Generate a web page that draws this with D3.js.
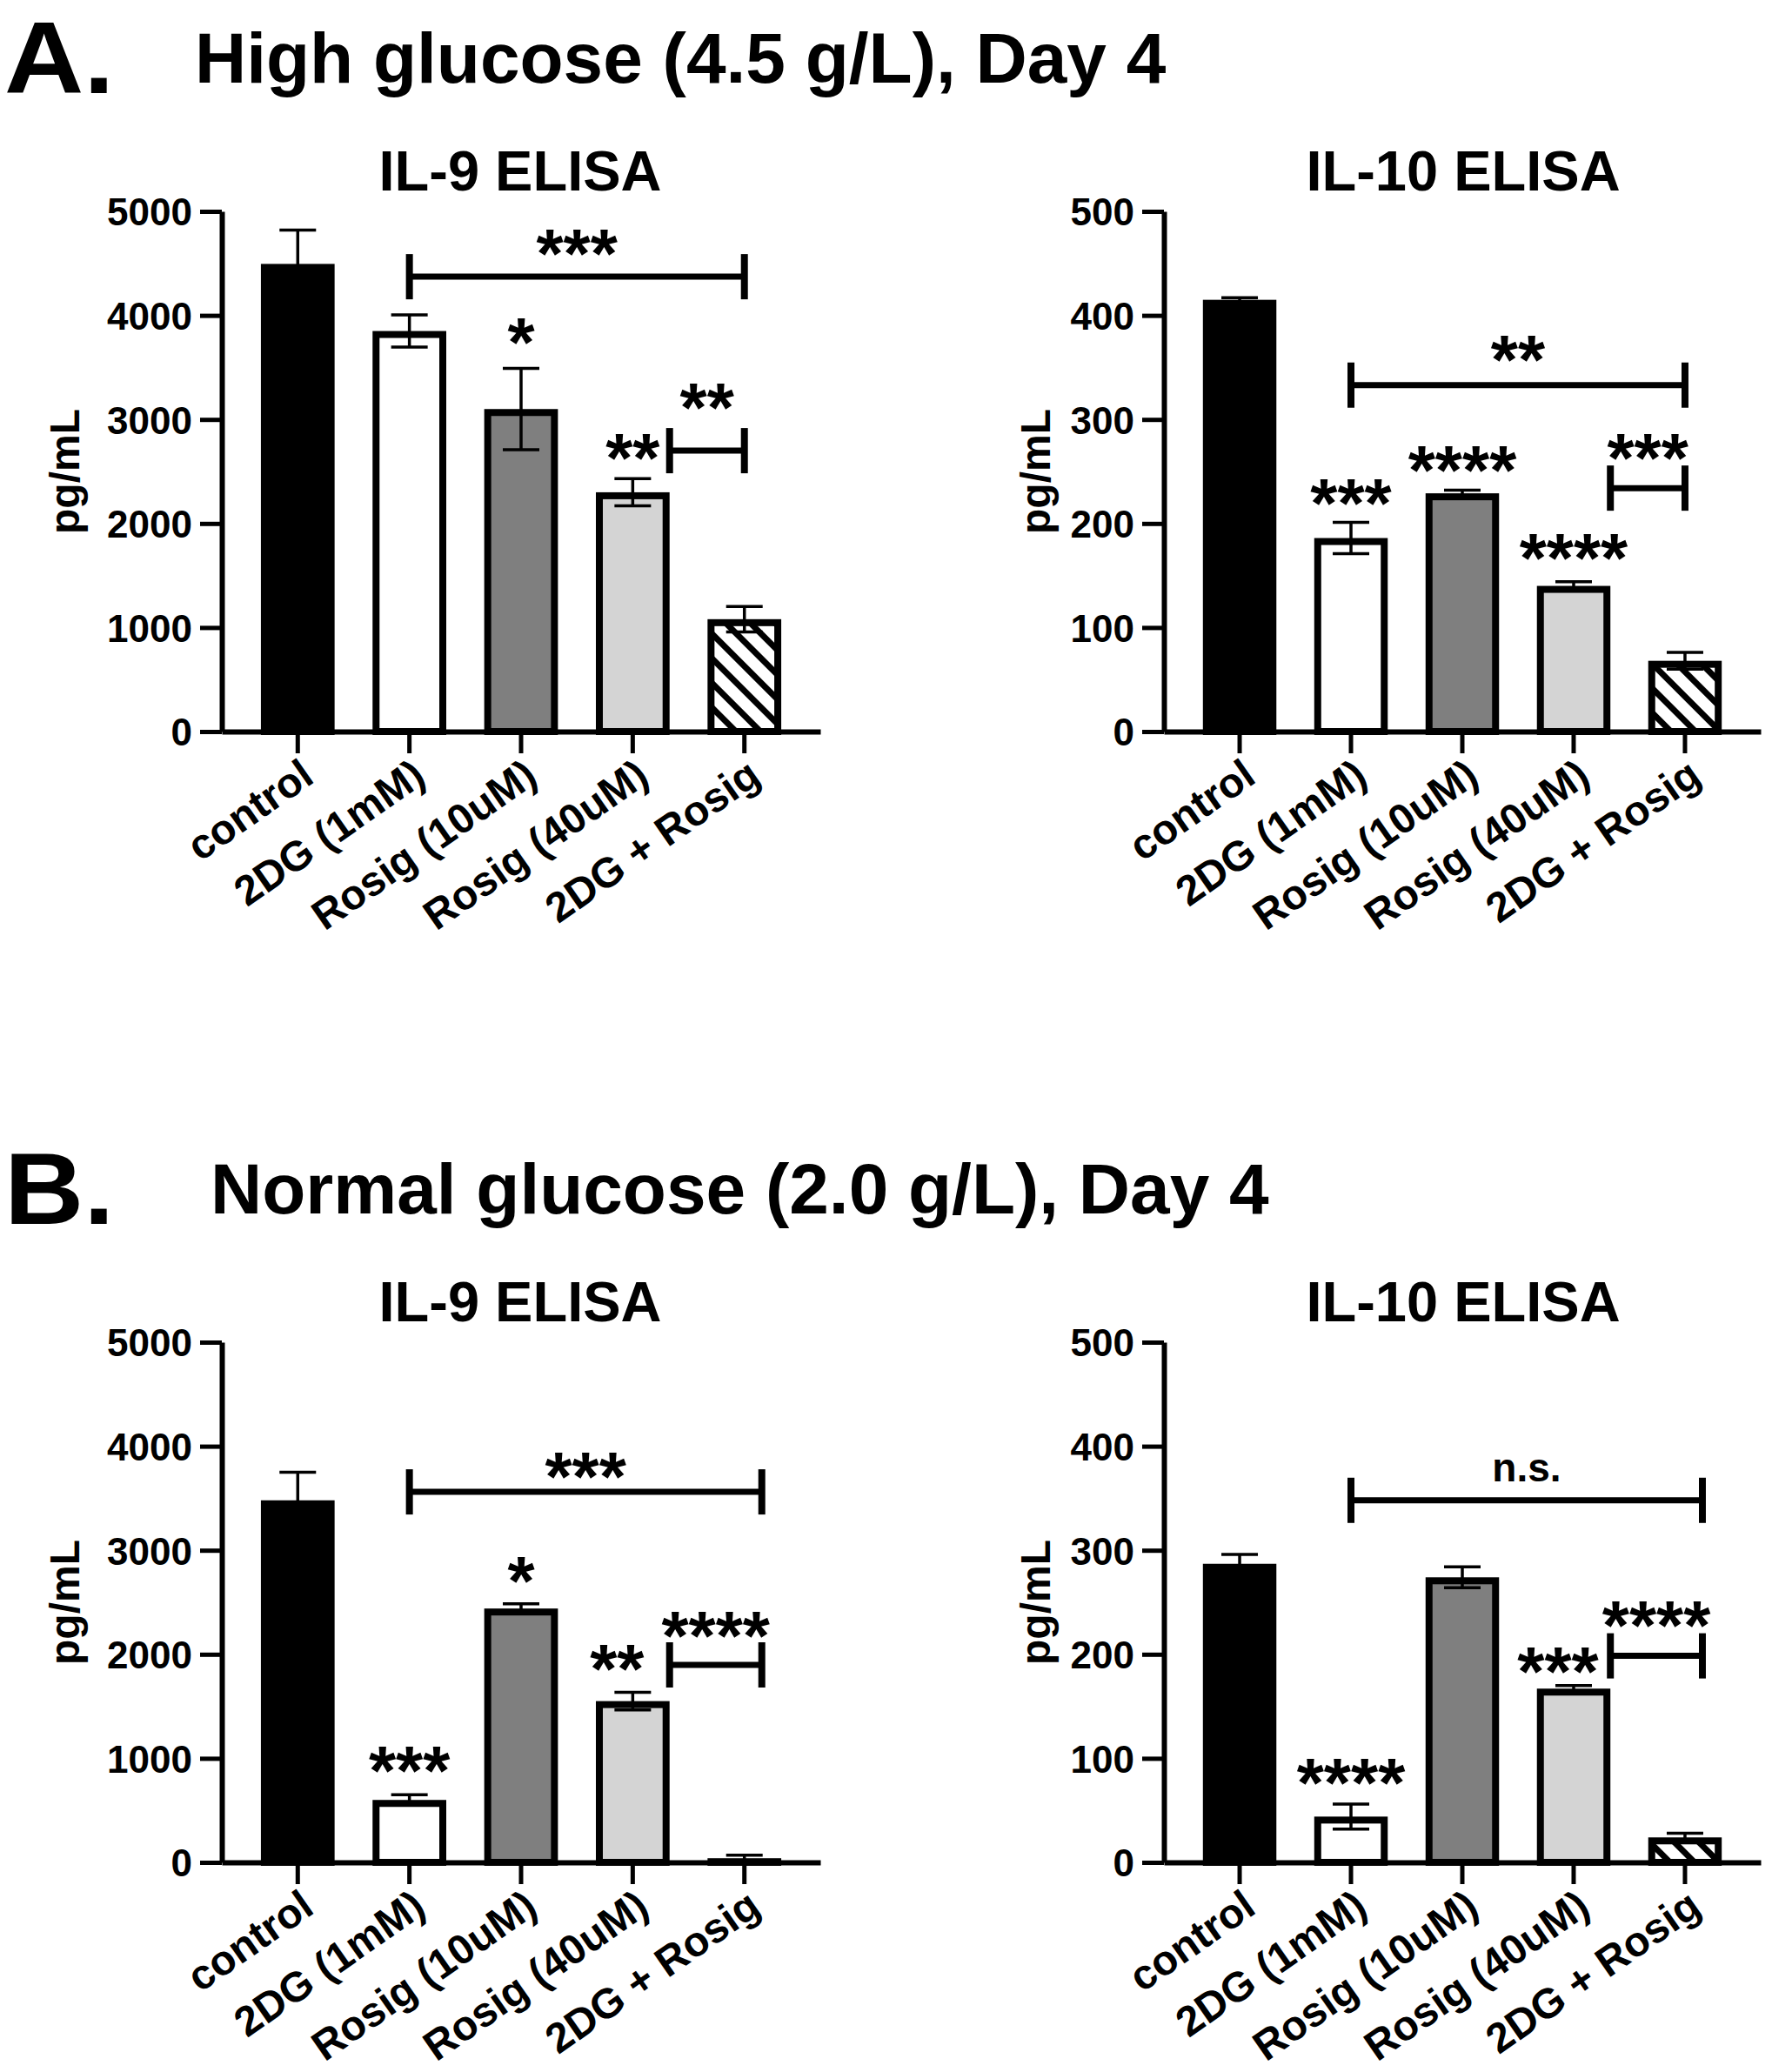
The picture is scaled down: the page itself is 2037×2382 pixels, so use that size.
<!DOCTYPE html>
<html>
<head>
<meta charset="utf-8">
<script src="https://cdn.jsdelivr.net/npm/d3@7"></script>
<style>
  body { margin: 0; background: #fff; }
  text { font-family: "Liberation Sans", Arial, sans-serif; font-weight: bold; fill: #000; }
</style>
</head>
<body>
<svg></svg>
<script>
var svgWidth = 2037;
var svgHeight = 2382;

/* categories and tick values */
var categories = ['control', '2DG (1mM)', 'Rosig (10uM)', 'Rosig (40uM)', '2DG + Rosig'];
var il9Ticks = [0, 1000, 2000, 3000, 4000, 5000];
var il10Ticks = [0, 100, 200, 300, 400, 500];

/* A: high glucose (mean, SEM) */
var il9HighMean = [4495, 3850, 3100, 2300, 1080];
var il9HighSem = [325, 155, 390, 130, 122];
var il10HighMean = [415, 186, 229, 140, 68];
var il10HighSem = [2, 15, 3, 4, 8];

/* B: normal glucose (mean, SEM) */
var il9NormalMean = [3480, 600, 2440, 1550, 40];
var il9NormalSem = [270, 50, 45, 85, 30];
var il10NormalMean = [287, 44, 274, 167, 24];
var il10NormalSem = [9, 12, 10, 3, 4];

/* brackets: [from, to, line value, label, label value] */
var il9HighBrackets = [['2DG (1mM)', '2DG + Rosig', 4372, '***', 4677], ['Rosig (40uM)', '2DG + Rosig', 2700, '**', 3200]];
var il10HighBrackets = [['2DG (1mM)', '2DG + Rosig', 333, '**', 366], ['Rosig (40uM)', '2DG + Rosig', 234, '***', 271]];
var il9NormalBrackets = [['2DG (1mM)', '2DG + Rosig', 3561, '***', 3796], ['Rosig (40uM)', '2DG + Rosig', 1898, '****', 2263]];
var il10NormalBrackets = [['2DG (1mM)', '2DG + Rosig', 348, 'n.s.', 376], ['Rosig (40uM)', '2DG + Rosig', 198.5, '****', 236]];

/* stars over single bars: [category, label, label value] */
var il9HighStars = [['Rosig (10uM)', '*', 3826], ['Rosig (40uM)', '**', 2711]];
var il10HighStars = [['2DG (1mM)', '***', 228], ['Rosig (10uM)', '****', 260], ['Rosig (40uM)', '****', 175]];
var il9NormalStars = [['2DG (1mM)', '***', 964], ['Rosig (10uM)', '*', 2787], ['Rosig (40uM)', '**', 1948]];
var il10NormalStars = [['2DG (1mM)', '****', 85], ['Rosig (40uM)', '***', 192]];

/* styling */
var barFills = ['#000000', '#ffffff', '#7f7f7f', '#d4d4d4', 'url(#hatch)'];
var starSize = 80;

var svg = d3.select('svg')
    .attr('width', svgWidth)
    .attr('height', svgHeight)
    .style('background', '#fff');

var defs = svg.append('defs');
var hatch = defs.append('pattern')
    .attr('id', 'hatch')
    .attr('patternUnits', 'userSpaceOnUse')
    .attr('width', 20)
    .attr('height', 20)
    .attr('patternTransform', 'rotate(-45)');
hatch.append('rect').attr('width', 20).attr('height', 20).attr('fill', '#fff');
hatch.append('rect').attr('width', 7).attr('height', 20).attr('fill', '#000');

var panels = [
    { letter: 'A.', title: 'High glucose (4.5 g/L), Day 4', dy: 0, titleX: 224, endNudge: 0, starNudge: 0,
      charts: [
        { name: 'IL-9 ELISA', mean: il9HighMean, sem: il9HighSem, ticks: il9Ticks, brackets: il9HighBrackets, stars: il9HighStars },
        { name: 'IL-10 ELISA', mean: il10HighMean, sem: il10HighSem, ticks: il10Ticks, brackets: il10HighBrackets, stars: il10HighStars }
      ] },
    { letter: 'B.', title: 'Normal glucose (2.0 g/L), Day 4', dy: 1300, titleX: 242, endNudge: 20, starNudge: -18,
      charts: [
        { name: 'IL-9 ELISA', mean: il9NormalMean, sem: il9NormalSem, ticks: il9Ticks, brackets: il9NormalBrackets, stars: il9NormalStars },
        { name: 'IL-10 ELISA', mean: il10NormalMean, sem: il10NormalSem, ticks: il10Ticks, brackets: il10NormalBrackets, stars: il10NormalStars }
      ] }
];

/* left/right placement of the two charts in a row */
var columns = [
    { x0: 255, x1: 943, titleX: 598, ylabX: 91 },
    { x0: 1338, x1: 2024, titleX: 1682, ylabX: 1207 }
];

/* Draw one bar chart */
function drawChart(chart, col, panel){
    var yTop = 243 + panel.dy;
    var yBot = 841 + panel.dy;
    var g = svg.append('g');

    var x = d3.scaleBand()
        .domain(categories)
        .range([col.x0, col.x1])
        .paddingInner(0.34)
        .paddingOuter(0.35);
    var y = d3.scaleLinear()
        .domain([0, d3.max(chart.ticks)])
        .range([yBot, yTop]);
    var bw = x.bandwidth();
    var cx = d => x(d) + bw / 2;

    g.append('text')
        .attr('x', col.titleX)
        .attr('y', 219 + panel.dy)
        .attr('text-anchor', 'middle')
        .style('font-size', '65px')
        .text(chart.name);

    var rows = categories.map((c, i) => ({ cat: c, v: chart.mean[i], e: chart.sem[i], fill: barFills[i] }));

    /* bars, border drawn inside the bar outline */
    g.selectAll('rect.bar')
        .data(rows)
        .enter()
        .append('rect')
        .attr('class', 'bar')
        .attr('x', d => x(d.cat) + 4)
        .attr('width', bw - 8)
        .attr('y', d => y(d.v) + 4)
        .attr('height', d => Math.max(0, yBot - y(d.v) - 4))
        .attr('fill', d => d.fill)
        .attr('stroke', '#000')
        .attr('stroke-width', 8);

    /* error bars */
    var err = g.selectAll('g.err')
        .data(rows)
        .enter()
        .append('g')
        .attr('class', 'err')
        .attr('stroke', '#000')
        .attr('stroke-width', 3.5);
    err.append('line')
        .attr('x1', d => cx(d.cat)).attr('x2', d => cx(d.cat))
        .attr('y1', d => y(d.v - d.e)).attr('y2', d => y(d.v + d.e));
    err.append('line')
        .attr('x1', d => cx(d.cat) - 21).attr('x2', d => cx(d.cat) + 21)
        .attr('y1', d => y(d.v + d.e)).attr('y2', d => y(d.v + d.e));
    err.append('line')
        .attr('x1', d => cx(d.cat) - 21).attr('x2', d => cx(d.cat) + 21)
        .attr('y1', d => y(d.v - d.e)).attr('y2', d => y(d.v - d.e));

    /* y axis */
    var yAxis = g.append('g')
        .attr('transform', `translate(${col.x0},0)`)
        .call(d3.axisLeft(y).tickValues(chart.ticks).tickFormat(d3.format('d'))
            .tickSize(25).tickSizeOuter(0).tickPadding(9));
    yAxis.select('.domain').attr('stroke-width', 6);
    yAxis.selectAll('.tick line').attr('stroke-width', 5);
    yAxis.selectAll('.tick text')
        .attr('dy', '0.36em')
        .style('font-size', '44px')
        .style('font-family', '"Liberation Sans", Arial, sans-serif');

    /* x axis */
    var xAxis = g.append('g')
        .attr('transform', `translate(0,${yBot})`)
        .call(d3.axisBottom(x).tickSize(25).tickSizeOuter(0));
    xAxis.select('.domain').attr('stroke-width', 6);
    xAxis.selectAll('.tick line').attr('stroke-width', 5);
    xAxis.selectAll('.tick text')
        .attr('y', 0)
        .attr('dy', 0)
        .attr('transform', 'translate(21,57) rotate(-35)')
        .attr('text-anchor', 'end')
        .style('font-size', '48px')
        .style('font-family', '"Liberation Sans", Arial, sans-serif');

    g.append('text')
        .attr('transform', `translate(${col.ylabX},${(yTop + yBot) / 2}) rotate(-90)`)
        .attr('text-anchor', 'middle')
        .style('font-size', '48px')
        .text('pg/mL');

    /* significance brackets */
    chart.brackets.forEach(b => {
        var near = categories.indexOf(b[1]) - categories.indexOf(b[0]) === 1;
        var xa = near ? cx(b[0]) + bw / 2 : cx(b[0]);
        var xb = cx(b[1]) + panel.endNudge;
        var yl = y(b[2]);
        g.append('line').attr('x1', xa).attr('x2', xb).attr('y1', yl).attr('y2', yl)
            .attr('stroke', '#000').attr('stroke-width', 7);
        [xa, xb].forEach(xx => {
            g.append('line').attr('x1', xx).attr('x2', xx).attr('y1', yl - 26).attr('y2', yl + 26)
                .attr('stroke', '#000').attr('stroke-width', 8);
        });
        drawLabel(g, (xa + xb) / 2, y(b[4]), b[3]);
    });

    chart.stars.forEach(s => {
        var nudge = s[0] === 'Rosig (40uM)' ? panel.starNudge : 0;
        drawLabel(g, cx(s[0]) + nudge, y(s[2]), s[1]);
    });
}

/* Label centred (visually) on yc */
function drawLabel(g, xc, yc, label){
    var ns = label === 'n.s.';
    g.append('text')
        .attr('x', xc)
        .attr('y', ns ? yc + 12 : yc + 0.47 * starSize)
        .attr('text-anchor', 'middle')
        .style('font-size', ns ? '46px' : starSize + 'px')
        .text(label);
}

panels.forEach(p => {
    svg.append('text')
        .attr('transform', `translate(5,${107 + p.dy}) scale(1.08,1)`)
        .style('font-size', '117px')
        .text(p.letter);
    svg.append('text')
        .attr('x', p.titleX)
        .attr('y', 95 + p.dy)
        .style('font-size', '82px')
        .text(p.title);
    p.charts.forEach((c, i) => drawChart(c, columns[i], p));
});
</script>
</body>
</html>
